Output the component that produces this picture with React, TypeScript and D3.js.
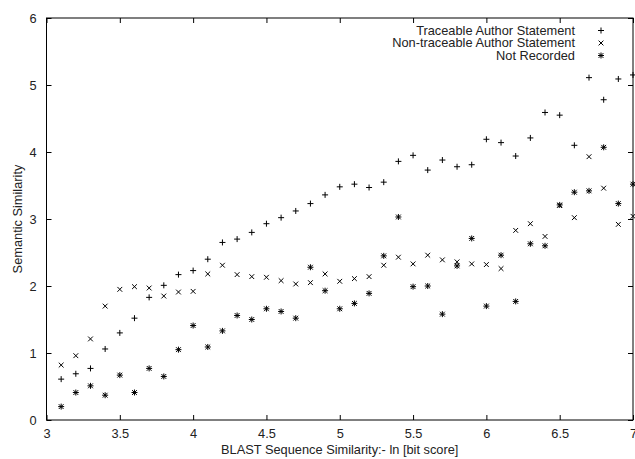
import React, {useEffect, useRef} from 'react';
import {select, scaleLinear, axisBottom, axisLeft, axisTop, axisRight, range} from 'd3';

const xValues = range(31, 71).map((d) => d / 10);
const traceable = [0.61, 0.69, 0.77, 1.06, 1.30, 1.52, 1.83, 2.01, 2.17, 2.23,
  2.40, 2.65, 2.70, 2.80, 2.93, 3.02, 3.12, 3.23, 3.36, 3.48,
  3.52, 3.47, 3.55, 3.86, 3.95, 3.73, 3.88, 3.78, 3.81, 4.19,
  4.14, 3.94, 4.21, 4.59, 4.55, 4.10, 5.11, 4.78, 5.09, 5.15];
const nonTraceable = [0.82, 0.96, 1.21, 1.70, 1.95, 1.99, 1.97, 1.85, 1.91, 1.92,
  2.18, 2.31, 2.17, 2.14, 2.13, 2.08, 2.03, 2.05, 2.18, 2.07,
  2.11, 2.14, 2.31, 2.43, 2.33, 2.46, 2.39, 2.36, 2.33, 2.32,
  2.26, 2.83, 2.93, 2.74, 3.20, 3.02, 3.93, 3.46, 2.92, 3.04];
const notRecorded = [0.20, 0.41, 0.51, 0.37, 0.67, 0.41, 0.77, 0.65, 1.05, 1.41,
  1.09, 1.33, 1.56, 1.50, 1.66, 1.62, 1.52, 2.28, 1.93, 1.66,
  1.74, 1.89, 2.45, 3.03, 1.99, 2.00, 1.58, 2.30, 2.71, 1.70,
  2.46, 1.77, 2.63, 2.60, 3.21, 3.40, 3.42, 4.07, 3.23, 3.52];
const seriesNames = ['Traceable Author Statement', 'Non-traceable Author Statement', 'Not Recorded'];
const xTicks = [3, 3.5, 4, 4.5, 5, 5.5, 6, 6.5, 7];
const yTicks = [0, 1, 2, 3, 4, 5, 6];

const W = 635, H = 459;
const m = {left: 46.5, right: 2, top: 18, bottom: 39};
const font = 'Liberation Sans, Arial, sans-serif';
const fs = 12.8;

function marker(g, kind, s) {
  const p = [];
  if (kind === 0 || kind === 2) p.push(`M${-s},0H${s}M0,${-s}V${s}`);
  if (kind === 1 || kind === 2) p.push(`M${-s * 0.8},${-s * 0.8}L${s * 0.8},${s * 0.8}M${-s * 0.8},${s * 0.8}L${s * 0.8},${-s * 0.8}`);
  g.append('path').attr('d', p.join('')).attr('stroke', '#000').attr('stroke-width', 1).attr('fill', 'none');
}

function App() {
  const svgRef = useRef();
  useEffect(() => {
    const svg = select(svgRef.current);
    svg.selectAll('*').remove();
    const x = scaleLinear().domain([3, 7]).range([m.left, W - m.right]);
    const y = scaleLinear().domain([0, 6]).range([H - m.bottom, m.top]);

    const styleAxis = (g) => {
      g.select('.domain').remove();
      g.selectAll('line').attr('stroke', '#000');
      g.selectAll('text').attr('font-family', font).attr('font-size', fs).attr('fill', '#222');
    };
    svg.append('g').attr('transform', `translate(0,${y(0)})`)
      .call(axisBottom(x).tickValues(xTicks).tickFormat((d) => String(d)).tickSize(-5).tickPadding(9)).call(styleAxis);
    svg.append('g').attr('transform', `translate(0,${y(6)})`)
      .call(axisTop(x).tickValues(xTicks).tickFormat('').tickSize(-5)).call(styleAxis);
    svg.append('g').attr('transform', `translate(${x(3)},0)`)
      .call(axisLeft(y).tickValues(yTicks).tickFormat((d) => String(d)).tickSize(-5).tickPadding(10)).call(styleAxis);
    svg.append('g').attr('transform', `translate(${x(7)},0)`)
      .call(axisRight(y).tickValues(yTicks).tickFormat('').tickSize(-5)).call(styleAxis);

    svg.append('rect').attr('x', x(3)).attr('y', y(6)).attr('width', x(7) - x(3)).attr('height', y(0) - y(6))
      .attr('fill', 'none').attr('stroke', '#000').attr('stroke-width', 1);

    [traceable, nonTraceable, notRecorded].forEach((vals, k) => {
      vals.forEach((v, i) => {
        const g = svg.append('g').attr('transform', `translate(${x(xValues[i])},${y(v)})`);
        marker(g, k, 3);
      });
    });

    // legend
    seriesNames.forEach((name, k) => {
      const ly = 30.5 + k * 12.5;
      svg.append('text').attr('x', 575).attr('y', ly).attr('dy', '0.35em').attr('text-anchor', 'end')
        .attr('font-family', font).attr('font-size', fs).attr('fill', '#222').text(name);
      const g = svg.append('g').attr('transform', `translate(601,${ly})`);
      marker(g, k, 3);
    });

    svg.append('text').attr('x', (x(3) + x(7)) / 2).attr('y', 454).attr('text-anchor', 'middle')
      .attr('font-family', font).attr('font-size', fs).attr('fill', '#222').text('BLAST Sequence Similarity:- ln [bit score]');
    svg.append('text').attr('transform', `translate(18,${(y(0) + y(6)) / 2}) rotate(-90)`)
      .attr('dy', '0.35em').attr('text-anchor', 'middle')
      .attr('font-family', font).attr('font-size', fs).attr('fill', '#222').text('Semantic Similarity');
  }, []);
  return (
    <svg ref={svgRef} width={W} height={H} style={{position: 'absolute', left: 0, top: 0, background: '#fff'}} />
  );
}

export default App;
